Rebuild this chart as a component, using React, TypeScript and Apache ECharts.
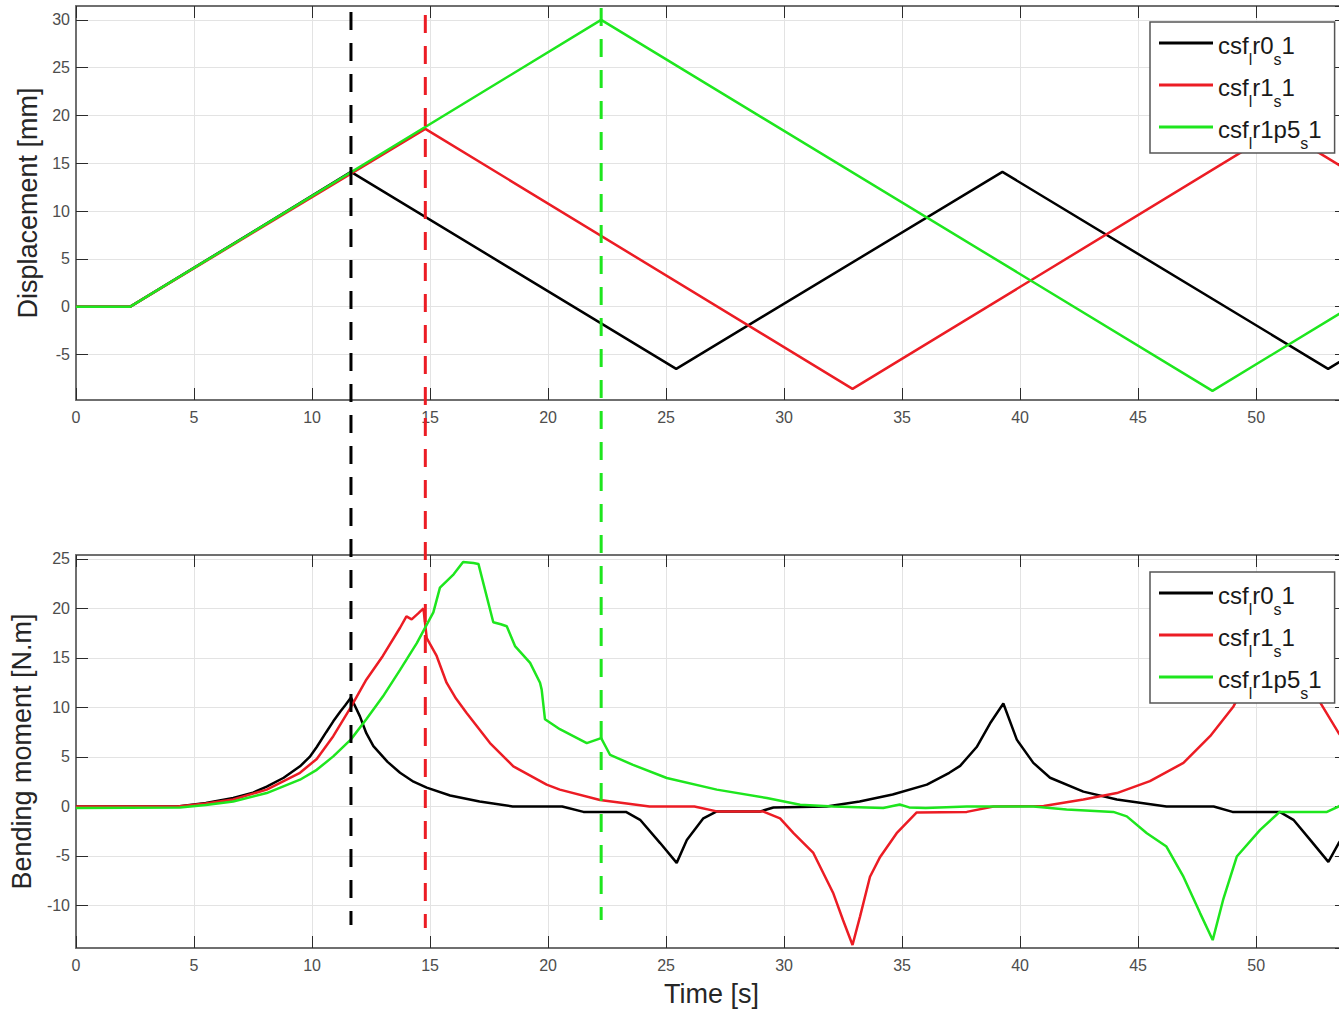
import React, { useEffect, useRef } from "react";
import * as echarts from "echarts";

// ---------- data ----------
const seriesNames = ["csf_lr0_s1", "csf_lr1_s1", "csf_lr1p5_s1"];
const seriesColors = ["#000000", "#ec1c24", "#1ee61e"];

// Displacement [mm] vs time [s]
const dispBlack = [[0, 0], [2.3, 0], [11.65, 14.1], [25.43, -6.5], [39.25, 14.1], [53.05, -6.5], [53.85, -5.3]];
const dispRed = [[0, 0], [2.3, 0], [14.8, 18.6], [32.9, -8.6], [51.0, 18.6], [53.85, 14.3]];
const dispGreen = [[0, 0], [2.3, 0], [22.25, 30.0], [48.15, -8.8], [53.85, -0.25]];

// Bending moment [N.m] vs time [s]
const momBlack = [
  [0, 0], [4.3, 0], [5.5, 0.35], [6.66, 0.85], [7.5, 1.4], [8.08, 2.0], [8.8, 2.9], [9.49, 4.05],
  [9.9, 5.0], [10.2, 6.0], [10.6, 7.5], [10.9, 8.6], [11.2, 9.6], [11.4, 10.2], [11.65, 11.0], [12.03, 9.1],
  [12.3, 7.4], [12.6, 6.1], [13.2, 4.5], [13.73, 3.4], [14.3, 2.5], [14.86, 1.9], [15.85, 1.1], [17.1, 0.5],
  [18.5, 0], [20.6, 0], [21.5, -0.55], [23.3, -0.55], [23.9, -1.35], [24.75, -3.7], [25.45, -5.7],
  [25.88, -3.4], [26.58, -1.2], [27.15, -0.5], [29.0, -0.5], [29.55, -0.1], [31.8, 0], [33.2, 0.5],
  [34.6, 1.2], [36.05, 2.2], [37.0, 3.4], [37.46, 4.1], [38.16, 6.0], [38.73, 8.4], [39.29, 10.4],
  [39.86, 6.75], [40.56, 4.4], [41.27, 2.9], [42.68, 1.5], [44.1, 0.7], [46.2, 0], [48.2, 0],
  [49.0, -0.55], [51.0, -0.55], [51.58, -1.35], [52.3, -3.4], [53.06, -5.6], [53.5, -3.7], [53.85, -2.5],
];
const momRed = [
  [0, 0], [4.3, 0], [5.5, 0.3], [6.66, 0.7], [8.08, 1.7], [9.49, 3.4], [10.2, 4.8], [10.9, 7.1],
  [11.64, 10.0], [12.3, 12.8], [13.0, 15.2], [13.73, 18.05], [14.0, 19.2], [14.22, 18.9], [14.5, 19.5],
  [14.72, 20.0], [14.86, 17.0], [15.28, 15.2], [15.7, 12.5], [16.1, 10.9], [16.55, 9.45], [17.54, 6.4], [18.53, 4.05],
  [19.94, 2.2], [20.5, 1.7], [22.2, 0.65], [24.3, 0], [26.2, 0], [27.15, -0.5], [29.1, -0.5],
  [29.83, -1.2], [30.4, -2.7], [31.24, -4.7], [32.09, -8.8], [32.5, -11.5], [32.9, -14.0], [33.22, -11.1],
  [33.64, -7.1], [34.07, -5.1], [34.77, -2.7], [35.62, -0.6], [37.74, -0.55], [38.87, 0], [41.0, 0.05],
  [42.68, 0.7], [44.1, 1.35], [45.5, 2.55], [46.92, 4.4], [48.05, 7.1], [49.04, 10.1], [49.8, 13.5],
  [50.5, 17.0], [51.0, 19.5], [51.2, 20.0], [51.35, 17.2], [52.0, 13.2], [52.64, 10.8], [53.5, 7.4],
  [53.85, 6.3],
];
const momGreen = [
  [0, -0.15], [4.4, -0.1], [5.5, 0.15], [6.66, 0.5], [8.08, 1.35], [9.49, 2.7], [10.2, 3.7],
  [10.9, 5.06], [11.64, 6.75], [12.3, 8.8], [13.0, 11.1], [13.73, 13.8], [14.44, 16.5], [15.14, 19.6],
  [15.42, 22.1], [16.0, 23.45], [16.4, 24.7], [16.84, 24.6], [17.05, 24.5], [17.68, 18.6], [18.0, 18.4],
  [18.25, 18.2], [18.6, 16.2], [19.24, 14.5], [19.66, 12.5], [19.73, 11.8], [19.87, 8.8], [20.5, 7.8],
  [21.64, 6.4], [22.25, 6.9], [22.63, 5.2], [23.6, 4.2], [25.03, 2.87], [27.15, 1.7], [29.27, 0.85],
  [30.68, 0.17], [32.09, 0], [34.2, -0.15], [34.9, 0.2], [35.3, -0.1], [36.0, -0.15], [37.74, 0],
  [40.56, 0], [41.97, -0.3], [43.95, -0.55], [44.52, -1.0], [45.37, -2.7], [46.2, -4.05], [46.92, -7.1],
  [47.63, -10.8], [48.16, -13.5], [48.6, -9.45], [49.18, -5.06], [50.17, -2.36], [51.0, -0.55],
  [53.0, -0.55], [53.5, 0], [53.85, 0.5],
];

// Peak-time markers (vertical dashed lines spanning both panels)
const markerTimes = [11.65, 14.8, 22.25];
const markerTop = [0.9936, 0.9904, 0.9979];
const markerBottom = [0.0244, 0.0212, 0.0297];

// ---------- styling ----------
const FONT = "'Liberation Sans', Arial, Helvetica, sans-serif";
const X_MAX = 53.85;
const AXIS_GRAY = "#6f6f6f";
const TICK_DARK = "#2b2b2b";
const LABEL_GRAY = "#4d4d4d";
const GRID_GRAY = "#e3e3e3";

function toRich(name: string) {
  return "{m|" + name.replace(/_(.)/g, "}{s|$1}{m|") + "}";
}

function xAxisPair(gridIndex: number, withName: boolean) {
  const common = {
    type: "value",
    gridIndex,
    min: 0,
    max: X_MAX,
    splitNumber: 11,
  };
  return [
    {
      ...common,
      position: "bottom",
      name: withName ? "Time [s]" : "",
      nameLocation: "middle",
      nameGap: 32,
      nameTextStyle: { fontSize: 27, color: "#262626", fontFamily: FONT },
      axisLine: { show: true, onZero: false, lineStyle: { color: AXIS_GRAY, width: 2 } },
      axisTick: { show: true, inside: true, length: 12, lineStyle: { color: TICK_DARK, width: 1 } },
      axisLabel: { show: true, margin: 9, fontSize: 16, color: LABEL_GRAY, fontFamily: FONT, showMaxLabel: false },
      splitLine: { show: true, lineStyle: { color: GRID_GRAY, width: 1 } },
    },
    {
      ...common,
      position: "top",
      axisLine: { show: true, onZero: false, lineStyle: { color: AXIS_GRAY, width: 2 } },
      axisTick: { show: true, inside: true, length: 12, lineStyle: { color: TICK_DARK, width: 1 } },
      axisLabel: { show: false },
      splitLine: { show: false },
    },
  ];
}

function yAxisPair(gridIndex: number, min: number, max: number, name: string, nameGap: number) {
  const common = { type: "value", gridIndex, min, max, splitNumber: 8 };
  return [
    {
      ...common,
      position: "left",
      name,
      nameLocation: "middle",
      nameGap,
      nameTextStyle: { fontSize: 27, color: "#262626", fontFamily: FONT },
      axisLine: { show: true, onZero: false, lineStyle: { color: AXIS_GRAY, width: 2 } },
      axisTick: { show: true, inside: true, length: 12, lineStyle: { color: TICK_DARK, width: 1 } },
      axisLabel: { show: true, margin: 6, fontSize: 16, color: LABEL_GRAY, fontFamily: FONT, showMinLabel: false, showMaxLabel: false },
      splitLine: { show: true, lineStyle: { color: GRID_GRAY, width: 1 } },
    },
    {
      ...common,
      position: "right",
      axisLine: { show: true, onZero: false, lineStyle: { color: AXIS_GRAY, width: 2 } },
      axisTick: { show: true, inside: true, length: 12, lineStyle: { color: TICK_DARK, width: 1 } },
      axisLabel: { show: false },
      splitLine: { show: false },
    },
  ];
}

function legendAt(top: number) {
  return {
    orient: "vertical",
    left: 1150,
    top,
    data: seriesNames,
    icon: "rect",
    itemWidth: 54,
    itemHeight: 3,
    itemGap: 6,
    padding: [9, 13, 2, 9],
    backgroundColor: "#ffffff",
    borderColor: "#555555",
    borderWidth: 1.5,
    selectedMode: false,
    formatter: toRich,
    textStyle: {
      color: "#1a1a1a",
      fontFamily: FONT,
      rich: {
        m: { fontSize: 24, lineHeight: 32, padding: [2, 0, -2, 0], color: "#1a1a1a", fontFamily: FONT },
        s: { fontSize: 16, lineHeight: 20, padding: [16, 0, -16, 0], color: "#1a1a1a", fontFamily: FONT },
      },
    },
  };
}

function buildOption() {
  const dispData = [dispBlack, dispRed, dispGreen];
  const momData = [momBlack, momRed, momGreen];

  const series: any[] = [];
  dispData.forEach((d, i) => {
    series.push({
      type: "line",
      name: seriesNames[i],
      xAxisIndex: 0,
      yAxisIndex: 0,
      data: d,
      symbol: "none",
      lineStyle: { color: seriesColors[i], width: 2.5 },
      itemStyle: { color: seriesColors[i] },
      z: 2,
    });
  });
  momData.forEach((d, i) => {
    series.push({
      type: "line",
      name: seriesNames[i],
      xAxisIndex: 2,
      yAxisIndex: 2,
      data: d,
      symbol: "none",
      lineStyle: { color: seriesColors[i], width: 2.5 },
      itemStyle: { color: seriesColors[i] },
      z: 2,
    });
  });
  markerTimes.forEach((t, i) => {
    series.push({
      type: "line",
      name: "marker" + i,
      xAxisIndex: 4,
      yAxisIndex: 4,
      data: [[t, markerTop[i]], [t, markerBottom[i]]],
      symbol: "none",
      silent: true,
      clip: false,
      lineStyle: { color: seriesColors[i], width: 3, type: [18, 13] },
      z: 3,
    });
  });

  return {
    animation: false,
    backgroundColor: "#ffffff",
    textStyle: { fontFamily: FONT },
    grid: [
      { left: 76, right: -8, top: 6, height: 394, outerBoundsMode: "none" },
      { left: 76, right: -8, top: 555, height: 393, outerBoundsMode: "none" },
      { left: 76, right: -8, top: 6, height: 942, outerBoundsMode: "none" },
    ],
    xAxis: [
      ...xAxisPair(0, false),
      ...xAxisPair(1, true),
      { type: "value", gridIndex: 2, min: 0, max: X_MAX, show: false },
    ],
    yAxis: [
      ...yAxisPair(0, -9.76, 31.45, "Displacement [mm]", 26),
      ...yAxisPair(1, -14.3, 25.4, "Bending moment [N.m]", 32),
      { type: "value", gridIndex: 2, min: 0, max: 1, show: false },
    ],
    legend: [legendAt(22), legendAt(572)],
    series,
  };
}

export default function App() {
  const ref = useRef<HTMLDivElement>(null);
  useEffect(() => {
    if (!ref.current) return;
    const chart = echarts.init(ref.current, undefined, { renderer: "svg" });
    chart.setOption(buildOption() as any);
    return () => chart.dispose();
  }, []);
  return (
    <div
      ref={ref}
      style={{ position: "fixed", left: 0, top: 0, width: 1339, height: 1013, background: "#ffffff" }}
    />
  );
}
